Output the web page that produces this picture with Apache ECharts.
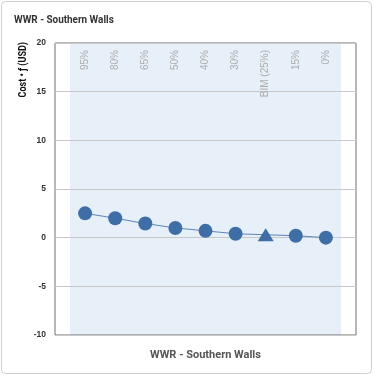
<!DOCTYPE html>
<html><head><meta charset="utf-8">
<script src="https://cdn.jsdelivr.net/npm/echarts@6/dist/echarts.min.js"></script>
<style>html,body{margin:0;padding:0;background:#fff}#c{width:374px;height:376px}</style>
</head><body><div id="c"></div>
<script>
var categories = ['95%','80%','65%','50%','40%','30%','BIM (25%)','15%','0%'];
var values = [2.5, 2.0, 1.45, 1.0, 0.7, 0.4, 0.3, 0.2, 0.0];
var symbols = ['circle','circle','circle','circle','circle','circle','triangle','circle','circle'];
var yTicks = [-10, -5, 0, 5, 10, 15, 20];
var title = 'WWR - Southern Walls';
var yName = 'Cost • ƒ (USD)';

var chart = echarts.init(document.getElementById('c'), null, {renderer:'canvas'});
var pts = values.map(function(v,i){
  return {value:[i,v], symbol: symbols[i], symbolSize: symbols[i]==='triangle' ? [16,13] : 14};
});
var rob = 'Roboto, "Liberation Sans", sans-serif';
chart.setOption({
  animation:false,
  graphic:[
    {type:'rect', shape:{x:1.5,y:1.5,width:370,height:372,r:4}, style:{fill:'#fff',stroke:'#cfcfcf',lineWidth:1}, z:-10},
    {type:'text', x:14, y:20, scaleX:0.9, style:{text:title, font:'bold 11px '+rob, fill:'#333', align:'left', verticalAlign:'middle'}},
    {type:'text', x:23, y:42, rotation:Math.PI/2, scaleX:0.9, style:{text:yName, font:'bold 10px '+rob, fill:'#111', align:'right', verticalAlign:'middle'}}
  ],
  grid:{left:55, right:18, top:43, bottom:41, show:true, borderColor:'#6f6f6f', borderWidth:1, backgroundColor:'transparent', z:3},
  xAxis:[
    {type:'value', position:'top', min:-1, max:9, interval:1, z:3,
     axisLine:{show:false}, axisTick:{show:false}, splitLine:{show:false},
     axisLabel:{inside:true, rotate:90, margin:7, color:'#adadad', fontSize:10, fontFamily:'Liberation Sans, Arial, sans-serif',
       formatter:function(v){ var i=Math.round(v); return (i>=0 && i<categories.length) ? categories[i] : ''; }}},
    {type:'value', position:'bottom', min:-1, max:9, interval:1,
     axisLine:{show:false}, axisTick:{show:false}, splitLine:{show:false}, axisLabel:{show:false},
     name:title, nameLocation:'middle', nameGap:15,
     nameTextStyle:{color:'#555', fontSize:11, fontWeight:'bold', fontFamily:rob}}
  ],
  yAxis:{type:'value', min:yTicks[0], max:yTicks[yTicks.length-1], interval:5, z:3,
    axisLine:{show:false}, axisTick:{show:false},
    splitLine:{lineStyle:{color:'#c8c8c8', width:1}},
    axisLabel:{color:'#333', fontSize:8.5, fontWeight:'bold', margin:9, fontFamily:'Liberation Sans, Arial, sans-serif'}},
  series:[
    {type:'line', data:[], z:1, silent:true,
     markArea:{silent:true, itemStyle:{color:'#e7eff8'}, data:[[{xAxis:-0.5},{xAxis:8.5}]]}},
    {type:'line', data:pts, z:6,
     lineStyle:{color:'#5b86b8', width:1},
     itemStyle:{color:'#3f6ea6', opacity:1}}
  ]
});
</script></body></html>
